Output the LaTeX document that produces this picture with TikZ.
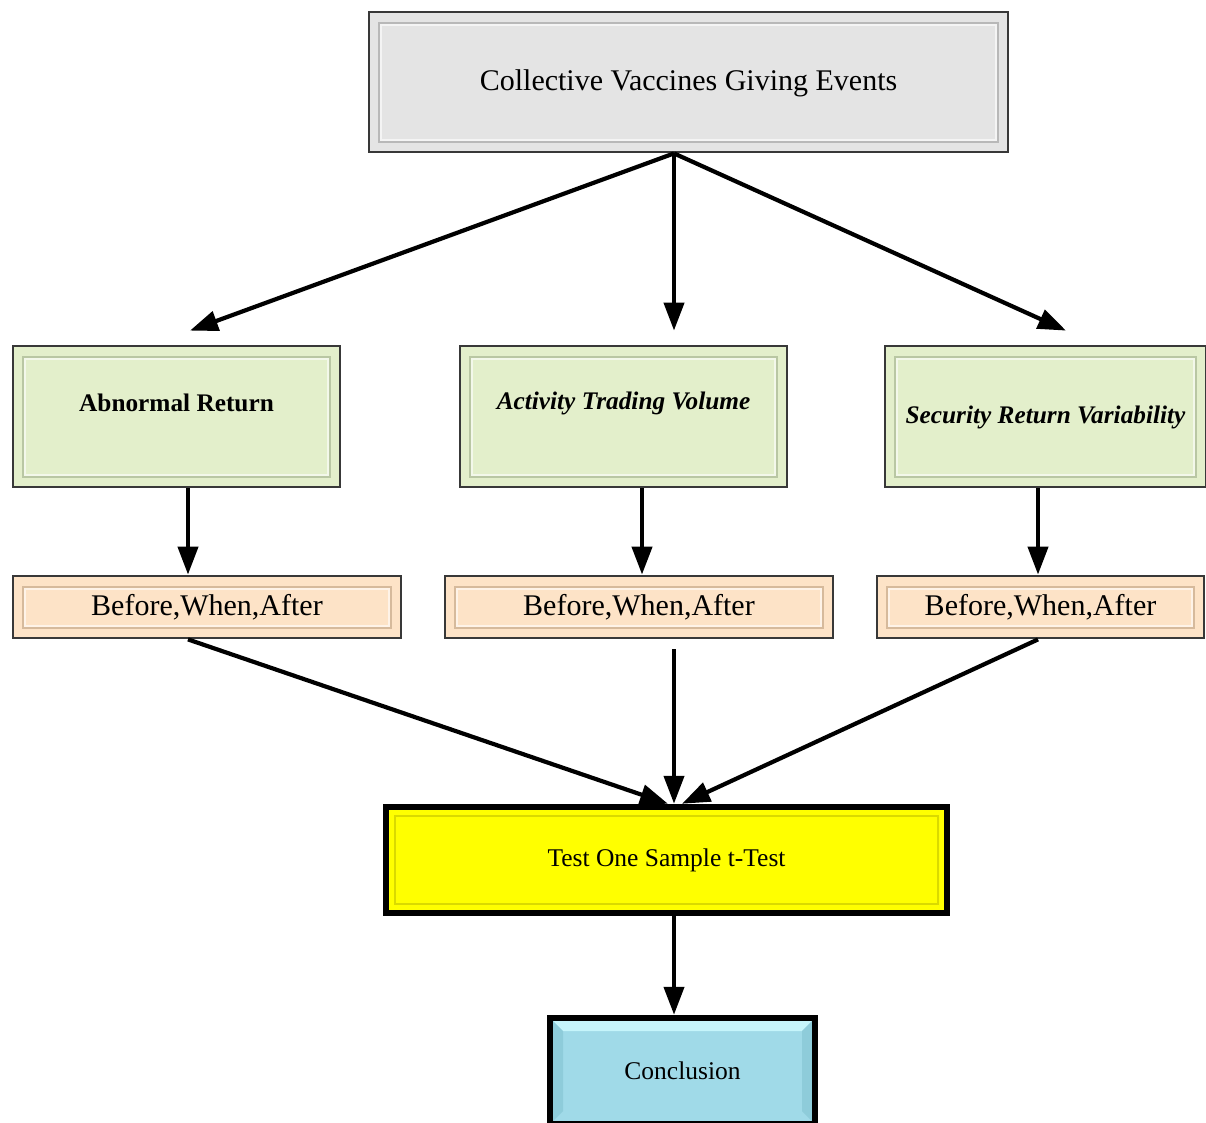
\documentclass[tikz,border=0pt]{standalone}
\usepackage{fontspec}
\setmainfont{Liberation Serif}
\usetikzlibrary{arrows.meta}
\definecolor{topfill}{HTML}{E4E4E4}
\definecolor{topin}{HTML}{B8B8B8}
\definecolor{grfill}{HTML}{E3EFCB}
\definecolor{grin}{HTML}{B9C7A3}
\definecolor{pefill}{HTML}{FDE3C7}
\definecolor{pein}{HTML}{D6BA9C}
\definecolor{yefill}{HTML}{FFFF00}
\definecolor{yein}{HTML}{DADA00}
\definecolor{cofill}{HTML}{A0DAE8}
\definecolor{colight}{HTML}{C6F5FB}
\definecolor{codark}{HTML}{8ECCDA}
\definecolor{boxline}{HTML}{383838}
\begin{document}
\begin{tikzpicture}[x=1pt,y=-1pt,
  box/.style={draw=boxline, line width=2.8pt, inner sep=0pt},
  bevel/.style={path picture={
     \draw[#1, line width=2pt]
     ([shift={(10pt,-11pt)}]path picture bounding box.north west) rectangle
     ([shift={(-10pt,10pt)}]path picture bounding box.south east);
     \draw[white, opacity=0.6, line width=1.2pt]
     ([shift={(12pt,-13pt)}]path picture bounding box.north west) rectangle
     ([shift={(-12pt,12pt)}]path picture bounding box.south east);}},
  heavy/.style={draw=black, line width=6.5pt, inner sep=0pt},
  arr/.style={line width=4.2pt, -{Triangle[length=28pt,width=20pt]}},
  bigfont/.style={font=\fontsize{30}{36}\selectfont},
  midfont/.style={font=\fontsize{25.5}{30}\selectfont},
  grfont/.style={font=\fontsize{25.3}{30}\selectfont\bfseries}]
\useasboundingbox (0,0) rectangle (1206,1122);

% top
\node[box, fill=topfill, bevel=topin, minimum width=639pt, minimum height=140pt,
  label={[bigfont, yshift=-1.5pt]center:Collective Vaccines Giving Events}]
  (top) at (688.5,82) {};

% green
\node[box, fill=grfill, bevel=grin, minimum width=327pt, minimum height=141pt,
  label={[grfont, yshift=13.5pt]center:Abnormal Return}]
  (ab) at (176.5,416.5) {};
\node[box, fill=grfill, bevel=grin, minimum width=327pt, minimum height=141pt,
  label={[grfont, yshift=13.5pt]center:\itshape Activity Trading Volume}]
  (atv) at (623.5,416.5) {};
\node[box, fill=grfill, bevel=grin, minimum width=321pt, minimum height=141pt,
  label={[grfont, yshift=-1pt]center:\itshape Security Return Variability}]
  (srv) at (1045.5,416.5) {};

% peach
\node[box, fill=pefill, bevel=pein, minimum width=388pt, minimum height=62pt, bigfont]
  (p1) at (207,607) {Before,When,After};
\node[box, fill=pefill, bevel=pein, minimum width=388pt, minimum height=62pt, bigfont]
  (p2) at (639,607) {Before,When,After};
\node[box, fill=pefill, bevel=pein, minimum width=327pt, minimum height=62pt, bigfont]
  (p3) at (1040.5,607) {Before,When,After};

% yellow
\node[heavy, fill=yefill, minimum width=561pt, minimum height=106pt, midfont,
  path picture={\draw[yein, line width=2pt]
     ([shift={(9pt,-9pt)}]path picture bounding box.north west) rectangle
     ([shift={(-9pt,9pt)}]path picture bounding box.south east);}]
  (tt) at (666.5,860) {Test One Sample t-Test};

% conclusion
\node[heavy, fill=cofill, minimum width=265pt, minimum height=106pt, midfont,
  path picture={
   \fill[colight] ([shift={(3pt,-3pt)}]path picture bounding box.north west)
      -- ([shift={(-3pt,-3pt)}]path picture bounding box.north east)
      -- ([shift={(-13pt,-13pt)}]path picture bounding box.north east)
      -- ([shift={(13pt,-13pt)}]path picture bounding box.north west) -- cycle;
   \fill[codark] ([shift={(3pt,-3pt)}]path picture bounding box.north west)
      -- ([shift={(13pt,-13pt)}]path picture bounding box.north west)
      -- ([shift={(13pt,13pt)}]path picture bounding box.south west)
      -- ([shift={(3pt,3pt)}]path picture bounding box.south west) -- cycle;
   \fill[codark] ([shift={(-3pt,-3pt)}]path picture bounding box.north east)
      -- ([shift={(-13pt,-13pt)}]path picture bounding box.north east)
      -- ([shift={(-13pt,13pt)}]path picture bounding box.south east)
      -- ([shift={(-3pt,3pt)}]path picture bounding box.south east) -- cycle;
  }]
  (cc) at (682.5,1071) {Conclusion};

% arrows top -> green
\draw[arr] ([xshift=-14.5pt]top.south) -- ([xshift=13.5pt,yshift=14pt]ab.north);
\draw[arr] ([xshift=-14.5pt]top.south) -- ([xshift=50.5pt,yshift=14pt]atv.north);
\draw[arr] ([xshift=-14.5pt]top.south) -- ([xshift=20.5pt,yshift=14pt]srv.north);

% green -> peach
\draw[arr] ([xshift=11.5pt]ab.south) -- ([xshift=11.5pt]ab.south |- p1.north);
\draw[arr] ([xshift=18.5pt]atv.south) -- ([xshift=18.5pt]atv.south |- p2.north);
\draw[arr] ([xshift=-7.5pt]srv.south) -- ([xshift=-7.5pt]srv.south |- p3.north);

% peach -> test
\draw[arr] ([xshift=-19pt]p1.south) -- ([xshift=1.5pt]tt.north);
\draw[arr] ([xshift=35pt,yshift=-10pt]p2.south) -- ([xshift=7.5pt]tt.north);
\draw[arr] ([xshift=-2.5pt]p3.south) -- ([xshift=15.5pt]tt.north);

% test -> conclusion
\draw[arr] ([xshift=7.5pt]tt.south) -- ([xshift=7.5pt]tt.south |- cc.north);
\end{tikzpicture}
\end{document}
